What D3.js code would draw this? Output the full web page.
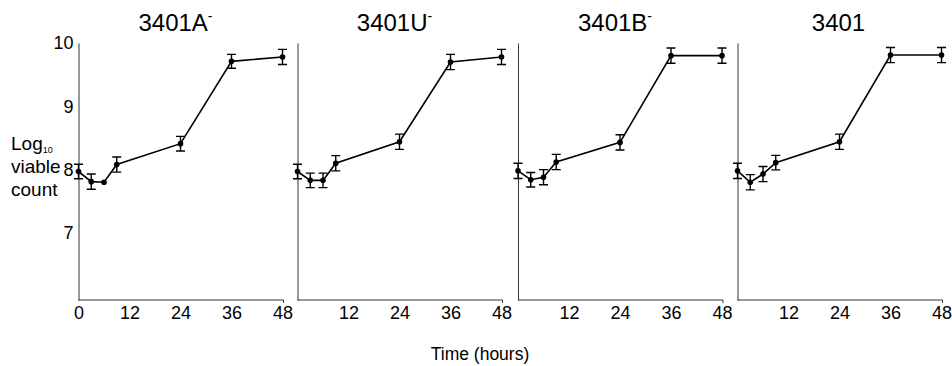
<!DOCTYPE html>
<html><head><meta charset="utf-8">
<script src="https://cdn.jsdelivr.net/npm/d3@7"></script>
<style>body{margin:0;background:#fff}svg{display:block;font-family:"Liberation Sans",Arial,sans-serif}</style>
</head><body><svg id="c" width="952" height="366"></svg>
<script>
const times = [0, 3, 6, 9, 24, 36, 48];
const strainNames = ["3401A", "3401U", "3401B", "3401"];
const strainSup = ["-", "-", "-", ""];
const valsA = [7.97, 7.81, 7.80, 8.08, 8.41, 9.71, 9.78];
const errA  = [0.115, 0.12, 0, 0.12, 0.115, 0.11, 0.12];
const valsU = [7.97, 7.83, 7.83, 8.10, 8.44, 9.70, 9.78];
const errU  = [0.115, 0.115, 0.115, 0.12, 0.12, 0.12, 0.12];
const valsB = [7.98, 7.84, 7.88, 8.12, 8.43, 9.80, 9.80];
const errB  = [0.12, 0.115, 0.12, 0.12, 0.12, 0.12, 0.12];
const vals3401 = [7.98, 7.80, 7.93, 8.11, 8.44, 9.81, 9.81];
const err3401  = [0.12, 0.12, 0.12, 0.115, 0.12, 0.12, 0.12];
const xTicks = [0, 12, 24, 36, 48];
const yTicks = [7, 8, 9, 10];

const seriesVals = [valsA, valsU, valsB, vals3401];
const seriesErr = [errA, errU, errB, err3401];

const svg = d3.select("#c");
const panelLeft = [78.5, 297.5, 518, 737.5];
const pw = 204;
const y = d3.scaleLinear().domain([5.94, 10]).range([300, 43]);
const FF = "Liberation Sans, Arial, sans-serif";

strainNames.forEach((name, i) => {
  const x = d3.scaleLinear().domain([0, 48]).range([panelLeft[i], panelLeft[i] + pw]);
  const g = svg.append("g");
  const xa = g.append("g").attr("transform", `translate(0,${y(5.94)})`)
    .call(d3.axisBottom(x).tickValues(i === 0 ? xTicks : xTicks.slice(1)).tickFormat(d3.format("d")).tickSize(0).tickSizeOuter(0).tickPadding(6));
  xa.select(".domain").attr("stroke", "#333").attr("stroke-width", 1).attr("d", `M${x(0)},0H${x(48)+1}V3`);
  xa.selectAll("text").attr("font-size", 18).attr("fill", "#000").attr("font-family", FF);
  const ya = g.append("g").attr("transform", `translate(${x(0)},0)`)
    .call(d3.axisLeft(y).tickValues(i === 0 ? yTicks : []).tickFormat(d3.format("d")).tickSize(0).tickSizeOuter(0).tickPadding(5));
  ya.select(".domain").attr("stroke", "#333").attr("stroke-width", 1);
  ya.selectAll("text").attr("font-size", 18).attr("fill", "#000").attr("font-family", FF);

  const pts = times.map((t, k) => ({t, v: seriesVals[i][k], e: seriesErr[i][k]}));
  const eb = g.append("g").attr("stroke", "#000").attr("stroke-width", 1.4).attr("fill", "none");
  pts.filter(d => d.e > 0).forEach(d => {
    const cx = x(d.t), y1 = y(d.v + d.e), y2 = y(d.v - d.e);
    eb.append("path").attr("d", `M${cx},${y1}V${y2}M${cx-4.5},${y1}H${cx+4.5}M${cx-4.5},${y2}H${cx+4.5}`);
  });
  g.append("path").datum(pts)
    .attr("fill", "none").attr("stroke", "#000").attr("stroke-width", 1.6)
    .attr("d", d3.line().x(d => x(d.t)).y(d => y(d.v)));
  g.selectAll("circle.pt").data(pts).join("circle")
    .attr("cx", d => x(d.t)).attr("cy", d => y(d.v)).attr("r", 2.8).attr("fill", "#000");
  const tt = g.append("text").attr("x", x(24) - (strainSup[i] ? 5 : 1)).attr("y", 31)
    .attr("text-anchor", "middle").attr("font-size", 24).attr("fill", "#000").text(name);
  if (strainSup[i]) tt.append("tspan").attr("font-size", 14).attr("dy", -10).text(strainSup[i]);
});

const yl = svg.append("g").attr("fill", "#000");
const l1 = yl.append("text").attr("x", 11).attr("y", 150).attr("font-size", 19).text("Log");
l1.append("tspan").attr("font-size", 9).attr("dy", 3).text("10");
yl.append("text").attr("x", 11).attr("y", 173).attr("font-size", 19).text("viable");
yl.append("text").attr("x", 11).attr("y", 196).attr("font-size", 19).text("count");

svg.append("text").attr("x", 480).attr("y", 360).attr("text-anchor", "middle")
  .attr("font-size", 17.5).attr("fill", "#000").text("Time (hours)");
</script></body></html>
